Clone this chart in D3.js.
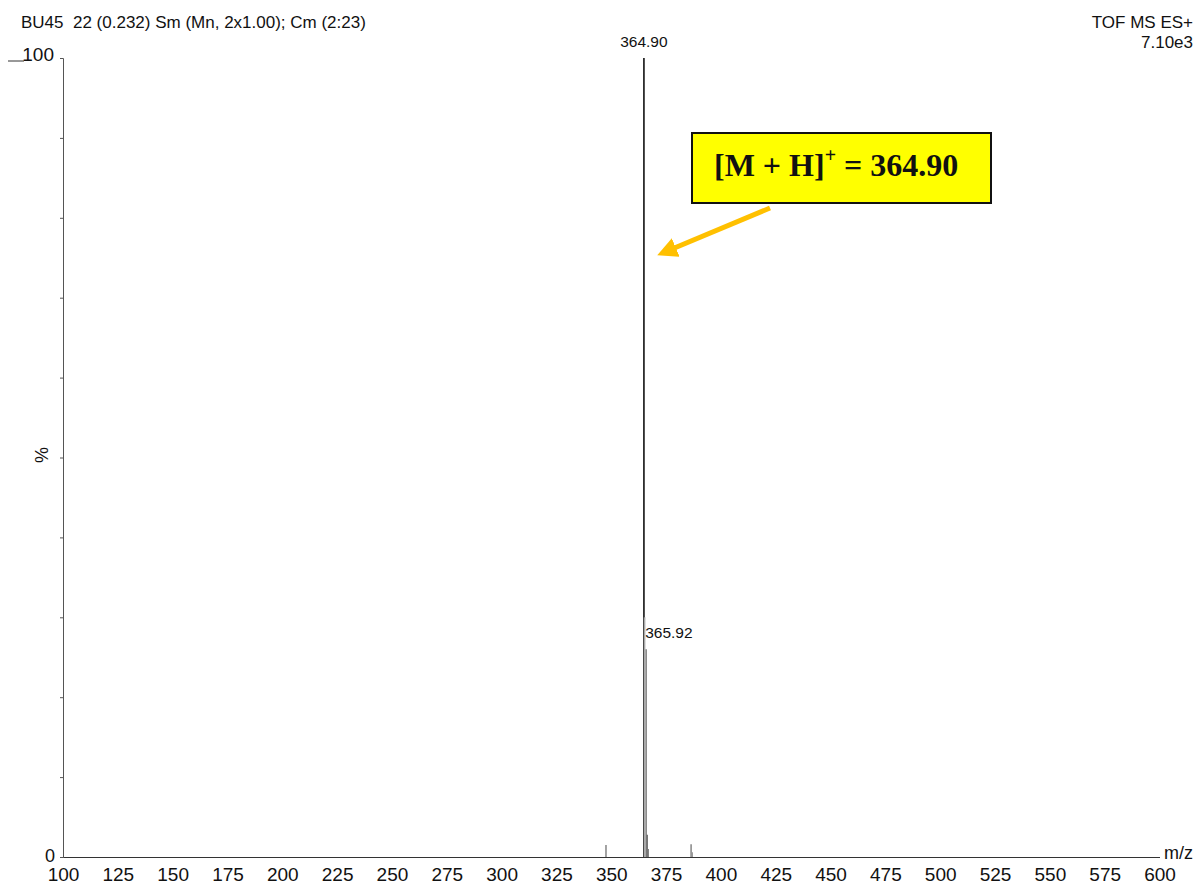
<!DOCTYPE html>
<html>
<head>
<meta charset="utf-8">
<script src="https://cdn.jsdelivr.net/npm/d3@7"></script>
<style>
  body { margin: 0; background: #fff; }
  svg text { font-family: "Liberation Sans", Arial, sans-serif; fill: #111; }
</style>
</head>
<body>
<div id="chart"></div>
<script>
// ピークデータ (m/z, 相対強度 %)
const peakMz = [347.6, 364.9, 365.2, 365.92, 366.4, 366.9, 386.4, 387.0];
const peakInt = [1.5, 100, 30, 26, 2.8, 1.0, 1.6, 0.6];
const peakColor = ["#666", "#111", "#aaa", "#888", "#555", "#777", "#666", "#999"];

// ラベル付きピーク
const labelMz = [364.9, 365.92];
const labelInt = [100, 26];
const labelText = ["364.90", "365.92"];

// 軸の目盛
const xTicks = d3.range(100, 601, 25);
const yTicks = d3.range(0, 101, 10);

const width = 1202, height = 886;
const svg = d3.select("#chart").append("svg")
  .attr("width", width)
  .attr("height", height);

const x = d3.scaleLinear().domain([100, 600]).range([63, 1159.5]);
const y = d3.scaleLinear().domain([0, 100]).range([857, 58]);

// ヘッダー
svg.append("text").attr("x", 21).attr("y", 28)
  .style("font-size", "17px")
  .style("white-space", "pre")
  .text("BU45  22 (0.232) Sm (Mn, 2x1.00); Cm (2:23)");
svg.append("text").attr("x", 1193).attr("y", 28).attr("text-anchor", "end")
  .style("font-size", "17px").text("TOF MS ES+");
svg.append("text").attr("x", 1193).attr("y", 48).attr("text-anchor", "end")
  .style("font-size", "17px").text("7.10e3");

// Y軸
const yAxis = svg.append("g")
  .attr("transform", "translate(63,0)")
  .call(d3.axisLeft(y).tickValues(yTicks).tickSize(3).tickFormat(""));
yAxis.select(".domain").attr("stroke", "#555");
yAxis.selectAll(".tick line").attr("stroke", "#555");

svg.append("text").attr("x", 54).attr("y", 61).attr("text-anchor", "end")
  .style("font-size", "19px").text("100");
svg.append("line").attr("x1", 8).attr("x2", 24).attr("y1", 61).attr("y2", 61)
  .attr("stroke", "#333").attr("stroke-width", 1);
svg.append("text").attr("x", 55).attr("y", 862).attr("text-anchor", "end")
  .style("font-size", "18px").text("0");
svg.append("text")
  .attr("transform", "translate(48,455) rotate(-90)")
  .attr("text-anchor", "middle")
  .style("font-size", "18px").text("%");

// X軸
const xAxis = svg.append("g")
  .attr("transform", "translate(0,857)")
  .call(d3.axisBottom(x).tickValues(xTicks).tickSize(0).tickPadding(11));
xAxis.select(".domain").attr("stroke", "#333").attr("stroke-width", 1.2);
xAxis.selectAll(".tick text")
  .style("font-size", "19px")
  .style("font-family", "'Liberation Sans', Arial, sans-serif")
  .attr("fill", "#111");
svg.append("text").attr("x", 1164).attr("y", 859)
  .style("font-size", "18px").text("m/z");

// ピーク
const peaks = peakMz.map((m, i) => ({ mz: m, v: peakInt[i], c: peakColor[i] }));
svg.selectAll(".peak")
  .data(peaks)
  .enter()
  .append("line")
  .attr("class", "peak")
  .attr("x1", (d) => x(d.mz))
  .attr("x2", (d) => x(d.mz))
  .attr("y1", y(0))
  .attr("y2", (d) => y(d.v))
  .attr("stroke", (d) => d.c)
  .attr("stroke-width", (d) => (d.v > 20 ? 1.6 : 1.2));

// ピークラベル
labelMz.forEach((m, i) => {
  const t = svg.append("text").style("font-size", "15.5px").text(labelText[i]);
  if (i === 0) {
    t.attr("x", x(m)).attr("y", y(labelInt[i]) - 11).attr("text-anchor", "middle");
  } else {
    t.attr("x", x(m) - 1).attr("y", y(labelInt[i]) - 11);
  }
});

// 注釈ボックス
svg.append("rect")
  .attr("x", 692).attr("y", 133).attr("width", 299).attr("height", 70)
  .attr("fill", "#ffff00").attr("stroke", "#111").attr("stroke-width", 2);
const ann = svg.append("text")
  .attr("x", 714).attr("y", 176)
  .style("font-family", "'Liberation Serif', 'Times New Roman', serif")
  .style("font-weight", "bold")
  .style("font-size", "32px");
ann.append("tspan").text("[M + H]");
ann.append("tspan").attr("dy", -14).style("font-size", "20px").text("+");
ann.append("tspan").attr("dy", 14).text(" = 364.90");

// 矢印
svg.append("defs").append("marker")
  .attr("id", "head")
  .attr("viewBox", "0 0 10 10")
  .attr("refX", 2).attr("refY", 5)
  .attr("markerWidth", 4).attr("markerHeight", 4)
  .attr("orient", "auto")
  .append("path").attr("d", "M0,0 L10,5 L0,10 z").attr("fill", "#ffc000");
svg.append("line")
  .attr("x1", 770).attr("y1", 208).attr("x2", 672).attr("y2", 249)
  .attr("stroke", "#ffc000").attr("stroke-width", 5)
  .attr("marker-end", "url(#head)");
</script>
</body>
</html>
